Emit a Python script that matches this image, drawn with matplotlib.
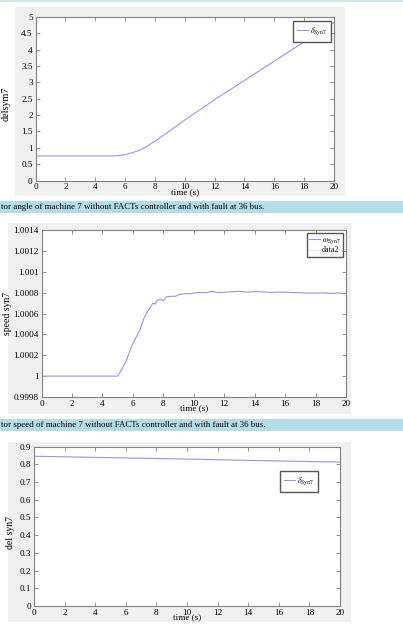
import matplotlib

matplotlib.use("Agg")
import matplotlib.pyplot as plt
from matplotlib.patches import Rectangle
from matplotlib.ticker import FuncFormatter
import numpy as np

W, H = 403, 627
LINE_COLOR = "#9494f0"
PANEL_BG = "#f0f0f0"
BAR_BG = "#b3dde6"

# rotor angle, machine 7 (panel 1)
t_angle = [0, 5, 5.5, 6, 6.5, 7, 7.5, 8, 9, 10, 12, 14, 16, 18, 20]
angle = [0.75, 0.75, 0.76, 0.79, 0.85, 0.93, 1.05, 1.2, 1.52, 1.85, 2.47, 3.06, 3.65, 4.24, 4.83]

# rotor speed, machine 7 (panel 2)
t_speed = [0, 5.0, 5.27, 5.6, 5.93, 6.26, 6.48, 6.7, 6.92, 7.15, 7.32, 7.47, 7.58, 7.8,
           8.0, 8.2, 8.5, 8.8, 9.0, 9.4, 9.8, 10.2, 10.8, 11.2, 11.6, 12.5, 13.0, 13.5,
           14.2, 15.0, 16.0, 17.0, 17.8, 18.5, 19.0, 19.5, 20.0]
speed = [1.0, 1.0, 1.000064, 1.00016, 1.00029, 1.000385, 1.00045, 1.000545, 1.00061,
         1.00066, 1.0007, 1.00069, 1.00072, 1.00074, 1.00072, 1.00076, 1.000765,
         1.000765, 1.00078, 1.00079, 1.00079, 1.0008, 1.0008, 1.000812, 1.0008,
         1.000808, 1.000812, 1.000805, 1.00081, 1.000802, 1.000805, 1.000798,
         1.000795, 1.000798, 1.000792, 1.000796, 1.000792]

# del syn7 (panel 3)
t_del = [0, 5, 10, 15, 20]
del_syn = [0.845, 0.837, 0.829, 0.82, 0.812]

captions = [
    "tor angle of machine 7 without FACTs controller and with fault at 36 bus.",
    "tor speed of machine 7 without FACTs controller and with fault at 36 bus.",
]

plt.rcParams["font.family"] = ["Liberation Serif", "DejaVu Serif"]
plt.rcParams["mathtext.fontset"] = "stix"

fig = plt.figure(figsize=(W / 100, H / 100), dpi=100, facecolor="white")


def box(x0, y0, x1, y1, color):
    fig.patches.append(Rectangle((x0 / W, 1 - y1 / H), (x1 - x0) / W, (y1 - y0) / H,
                                 transform=fig.transFigure, facecolor=color,
                                 edgecolor="none", zorder=-10))


def make_axes(x0, y0, x1, y1):
    ax = fig.add_axes([x0 / W, 1 - y1 / H, (x1 - x0) / W, (y1 - y0) / H])
    ax.set_facecolor("white")
    for s in ax.spines.values():
        s.set_color("#808080")
        s.set_linewidth(0.8)
    ax.tick_params(direction="in", top=True, right=True, length=3, width=0.6,
                   color="#808080", labelsize=6.6, pad=2)
    ax.xaxis.set_major_formatter(FuncFormatter(lambda v, p: f"{v:g}"))
    ax.set_xlim(0, 20)
    ax.set_xticks(np.arange(0, 21, 2))
    ax.set_xlabel("time (s)", fontsize=6.6, labelpad=-2.5)
    return ax


# backgrounds
box(0, 0, W, 2, "#cfe7ec")
box(15, 7, 345, 196, PANEL_BG)
box(0, 201, W, 213, BAR_BG)
box(8, 223, 351, 414, PANEL_BG)
box(0, 419, W, 431, BAR_BG)
box(8, 442, 351, 622, PANEL_BG)
fig.text(1 / W, 1 - 207 / H, captions[0], fontsize=6.4, va="center", ha="left")
fig.text(1 / W, 1 - 425 / H, captions[1], fontsize=6.4, va="center", ha="left")

leg_kw = dict(fontsize=5.8, handlelength=1.3, handletextpad=0.25, borderpad=0.55,
              fancybox=False, framealpha=1, edgecolor="#555555", borderaxespad=0)

# panel 1
ax1 = make_axes(35.5, 17, 334, 180.5)
ax1.plot(t_angle, angle, color=LINE_COLOR, lw=0.8, label=r"$\delta_{\mathrm{Syn7}}$")
ax1.set_ylim(0, 5)
ax1.set_yticks(np.arange(0, 5.01, 0.5))
ax1.yaxis.set_major_formatter(FuncFormatter(lambda v, p: f"{v:g}"))
ax1.set_ylabel("delsym7", fontsize=7.3)
ax1.yaxis.set_label_coords(-0.085, 0.47)
ax1.legend(loc="upper right", bbox_to_anchor=(0.99, 0.976), **leg_kw)

# panel 2
ax2 = make_axes(41.5, 230, 346, 397)
ax2.plot(t_speed, speed, color=LINE_COLOR, lw=0.8, label=r"$\omega_{\mathrm{Syn7}}$")
ax2.plot([], [], color="#c8c8c8", lw=0.8, ls=":", label="data2")
ax2.set_ylim(0.9998, 1.0014)
ax2.set_yticks(np.round(np.arange(0.9998, 1.00141, 0.0002), 4))
ax2.yaxis.set_major_formatter(FuncFormatter(lambda v, p: f"{round(v, 4):g}"))
ax2.set_ylabel("speed syn7", fontsize=7)
ax2.yaxis.set_label_coords(-0.097, 0.5)
ax2.legend(loc="upper right", bbox_to_anchor=(0.99, 0.982), labelspacing=0.1,
           **{**leg_kw, "borderpad": 0.3})

# panel 3
ax3 = make_axes(34, 446.5, 340, 606)
ax3.plot(t_del, del_syn, color=LINE_COLOR, lw=0.8, label=r"$\delta_{\mathrm{Syn7}}$")
ax3.set_ylim(0, 0.9)
ax3.set_yticks(np.round(np.arange(0, 0.91, 0.1), 1))
ax3.yaxis.set_major_formatter(FuncFormatter(lambda v, p: f"{round(v, 1):g}"))
ax3.set_ylabel("del syn7", fontsize=7)
ax3.yaxis.set_label_coords(-0.062, 0.46)
ax3.legend(loc="upper right", bbox_to_anchor=(0.928, 0.846), **leg_kw)

fig.savefig("out.png", dpi=100, facecolor="white")
